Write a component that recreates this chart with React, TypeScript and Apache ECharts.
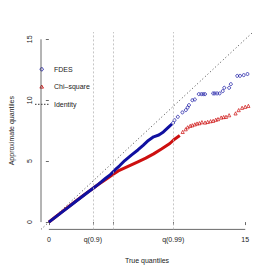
import React, { useEffect, useRef } from "react";
import * as echarts from "echarts";

const BLUE = "#1010A0";
const RED = "#CD1010";

// dense part of each Q-Q curve (true quantile, approximate quantile)
const fdesDense: number[][] = [
  [0, 0], [0.5, 0.41], [1, 0.82], [1.5, 1.23], [2, 1.65], [2.5, 2.06], [3, 2.47],
  [3.36, 2.76], [3.8, 3.12], [4.34, 3.6], [4.7, 3.9], [5.07, 4.3], [5.4, 4.62],
  [5.8, 5.05], [6.3, 5.5], [6.8, 5.92], [7.2, 6.3], [7.6, 6.7], [8.0, 7.0],
  [8.4, 7.15], [8.75, 7.4], [9.1, 7.75], [9.4, 8.05],
];
const fdesTail: number[][] = [
  [9.49, 8.14], [9.6, 8.36], [9.85, 8.64], [10.2, 9.0], [10.46, 9.19], [10.6, 9.4],
  [10.7, 9.6], [10.96, 10.0], [11.15, 10.06], [11.45, 10.5], [11.65, 10.5],
  [11.8, 10.5], [11.93, 10.5], [12.55, 10.56], [12.67, 10.56], [12.85, 10.56],
  [13.04, 10.56], [13.28, 10.75], [13.4, 11.02], [13.77, 11.02], [13.9, 11.32],
  [14.39, 12.0], [14.6, 12.0], [14.88, 12.06], [15.17, 12.15],
];

const chiDense: number[][] = [
  [0, 0], [0.5, 0.42], [1, 0.84], [1.5, 1.26], [2, 1.67], [2.5, 2.08], [3, 2.48],
  [3.36, 2.75], [3.8, 3.1], [4.34, 3.5], [4.8, 3.85], [5.3, 4.2], [5.8, 4.45],
  [6.3, 4.7], [6.8, 4.95], [7.4, 5.25], [8.0, 5.6], [8.6, 6.0], [9.24, 6.45],
  [9.6, 6.8], [10.0, 7.1],
];
const chiTail: number[][] = [
  [10.22, 7.4], [10.45, 7.62], [10.6, 7.78], [10.8, 7.9], [10.96, 7.95], [11.15, 8.02],
  [11.32, 8.09], [11.5, 8.12], [11.69, 8.2], [11.93, 8.17], [12.13, 8.22],
  [12.35, 8.28], [12.55, 8.31], [12.75, 8.4], [12.92, 8.45], [13.16, 8.58],
  [13.35, 8.62], [13.53, 8.64], [13.77, 8.77], [14.26, 8.92], [14.5, 9.19],
  [14.76, 9.38], [15.0, 9.46], [15.24, 9.54],
];

const identity: number[][] = [[-0.6, -0.6], [15.6, 15.6]];
const quantileMarks = [3.36, 4.95, 9.5];
const xTickValues = [0, 3.36, 4.95, 9.5, 15];
const xLabelValues = [0, 3.36, 9.5, 15];
const xLabelText: Record<string, string> = { "0": "0", "3.36": "q(0.9)", "9.5": "q(0.99)", "15": "15" };
const yTicks = [0, 5, 10, 15];
const axisMin = -0.6;
const axisMax = 15.6;
const legendNames = ["FDES", "Chi\u2013square", "Identity"];

const FONT = "Liberation Sans, Arial, sans-serif";

export default function App() {
  const ref = useRef<HTMLDivElement>(null);
  useEffect(() => {
    const chart = echarts.init(ref.current!, null, { renderer: "svg" });
    chart.setOption({
      animation: false,
      grid: { left: 32.8, top: 32, width: 220.3, height: 197.4 },
      xAxis: {
        type: "value", min: axisMin, max: axisMax,
        splitLine: { show: false }, axisLine: { show: false },
        axisTick: { show: true, length: 3, customValues: xTickValues, lineStyle: { color: "#444", width: 0.8 } },
        axisLabel: {
          customValues: xLabelValues, margin: 7, fontSize: 7, color: "#222", fontFamily: FONT,
          formatter: (v: number) => xLabelText[String(v)] ?? "",
        },
        name: "True quantiles", nameLocation: "middle", nameGap: 28,
        nameTextStyle: { fontSize: 7, color: "#222", fontFamily: FONT },
      },
      yAxis: {
        type: "value", min: axisMin, max: axisMax,
        splitLine: { show: false }, axisLine: { show: false },
        axisTick: { show: true, length: 3, customValues: yTicks, lineStyle: { color: "#444", width: 0.8 } },
        axisLabel: {
          customValues: yTicks, rotate: 90, margin: 8, fontSize: 7, color: "#222", fontFamily: FONT,
        },
        name: "Approximate quantiles", nameLocation: "middle", nameGap: 26,
        nameTextStyle: { fontSize: 7, color: "#222", fontFamily: FONT },
      },
      series: [
        {
          type: "line", data: [[0, axisMin], [15, axisMin]], symbol: "none", clip: false, silent: true,
          lineStyle: { color: "#444", width: 0.8 },
          markLine: {
            silent: true, symbol: "none", label: { show: false },
            lineStyle: { color: "#b8b8b8", type: [2, 2], width: 0.8 },
            data: quantileMarks.map((v) => ({ xAxis: v })),
          },
        },
        {
          type: "line", data: [[axisMin, 0], [axisMin, 15]], symbol: "none", clip: false, silent: true,
          lineStyle: { color: "#444", width: 0.8 },
        },
        {
          type: "line", data: identity, symbol: "none", silent: true,
          lineStyle: { color: "#444", width: 1, type: [1, 2.5] },
        },
        {
          type: "line", data: chiDense, symbol: "none", lineStyle: { color: RED, width: 3 },
        },
        {
          type: "scatter", data: chiTail, symbol: "triangle", symbolSize: 3.2,
          itemStyle: { color: "transparent", borderColor: RED, borderWidth: 0.9 },
        },
        {
          type: "line", data: fdesDense, symbol: "none", lineStyle: { color: BLUE, width: 3 },
        },
        {
          type: "scatter", data: fdesTail, symbol: "circle", symbolSize: 3,
          itemStyle: { color: "transparent", borderColor: BLUE, borderWidth: 0.9 },
        },
      ],
      graphic: [
        { type: "circle", shape: { cx: 41.7, cy: 69.3, r: 1.6 }, style: { fill: "none", stroke: BLUE, lineWidth: 0.9 } },
        { type: "polygon", shape: { points: [[41.7, 85], [43.5, 88.1], [39.9, 88.1]] }, style: { fill: "none", stroke: RED, lineWidth: 0.9 } },
        { type: "line", shape: { x1: 35, y1: 104.3, x2: 48.5, y2: 104.3 }, style: { stroke: "#333", lineWidth: 1, lineDash: [1.5, 1.5] } },
        { type: "text", x: 54, y: 69.3, style: { text: legendNames[0], fontSize: 7, fill: "#222", fontFamily: FONT, verticalAlign: "middle" } },
        { type: "text", x: 54, y: 86.7, style: { text: legendNames[1], fontSize: 7, fill: "#222", fontFamily: FONT, verticalAlign: "middle" } },
        { type: "text", x: 54, y: 104.3, style: { text: legendNames[2], fontSize: 7, fill: "#222", fontFamily: FONT, verticalAlign: "middle" } },
      ],
    });
    return () => chart.dispose();
  }, []);
  return <div ref={ref} style={{ width: 270, height: 270, position: "absolute", left: 0, top: 0, background: "#fff" }} />;
}
